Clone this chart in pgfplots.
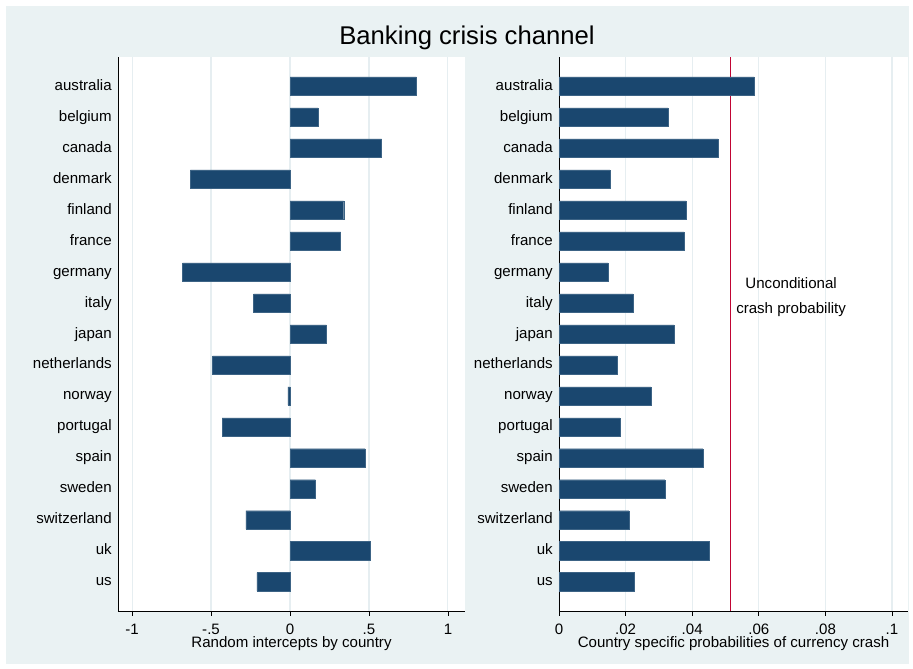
\documentclass[border=0pt]{standalone}
\usepackage{pgfplots}
\pgfplotsset{compat=1.18}
\usepackage{fontspec}
\setmainfont{Liberation Sans}
\definecolor{bgc}{HTML}{EAF2F3}
\definecolor{barc}{HTML}{1A476F}
\definecolor{gridc}{HTML}{E6EEF1}
\definecolor{redc}{HTML}{C10534}
\pgfplotstableread{
idx left right
0 0.80 0.0586
1 0.177 0.0327
2 0.58 0.0477
3 -0.63 0.0153
4 0.34 0.0381
5 0.32 0.0375
6 -0.68 0.0147
7 -0.23 0.0222
8 0.23 0.0345
9 -0.49 0.0174
10 -0.014 0.0276
11 -0.43 0.0183
12 0.475 0.0432
13 0.16 0.0318
14 -0.28 0.0210
15 0.51 0.0450
16 -0.21 0.0225
}\datatable
\pgfplotsset{
  commonstyle/.style={
    scale only axis,
    anchor=south west,
    height=415.5pt,
    y dir=reverse,
    ymin=-0.94, ymax=16.94,
    ytick={0,...,16},
    yticklabels={australia,belgium,canada,denmark,finland,france,germany,italy,japan,netherlands,norway,portugal,spain,sweden,switzerland,uk,us},
    ytick style={draw=none},
    yticklabel style={font=\fontsize{11.3}{13}\selectfont, anchor=base east, xshift=2.3pt, yshift=-3pt},
    xticklabel style={font=\fontsize{11.3}{13}\selectfont, anchor=base, yshift=-13.75pt},
    xlabel style={font=\fontsize{11.3}{13}\selectfont, at={(axis description cs:0.5,0)}, anchor=center, yshift=-24.75pt},
    axis x line*=bottom,
    axis y line*=left,
    axis line style={-, black, line width=0.7pt},
    x tick style={black, line width=0.6pt},
    tick align=outside,
    major tick length=3.5pt,
    xmajorgrids,
    major grid style={gridc, line width=0.8pt},
    axis background/.style={fill=white},
    xbar, bar width=13.8pt,
    /pgf/number format/assume math mode=true,
  }
}
\begin{document}
\begin{tikzpicture}
\fill[white] (0,0) rectangle (684.75pt,501pt);
\fill[bgc] (4.5pt,3pt) rectangle (681.75pt,496.5pt);
\node[font=\fontsize{19.25}{23}\selectfont] at (350.25pt,472.5pt) {Banking crisis channel};
\begin{axis}[commonstyle,
  at={(88.5pt,42.75pt)},
  width=260.25pt,
  xmin=-1.089, xmax=1.108,
  xtick={-1,-0.5,0,0.5,1},
  xticklabels={-1,-.5,0,.5,1},
  xlabel={Random intercepts by country},
]
\addplot[fill=barc, draw=barc!85!white, line width=0.3pt] table[x=left, y=idx] {\datatable};
\end{axis}
\begin{axis}[commonstyle,
  at={(419.25pt,42.75pt)},
  width=261.75pt,
  xmin=0, xmax=0.1048,
  xtick={0,0.02,0.04,0.06,0.08,0.1},
  xticklabels={0,.02,.04,.06,.08,.1},
  xlabel={Country specific probabilities of currency crash},
]
\draw[redc, line width=0.9pt] (axis cs:0.0514,-0.94) -- (axis cs:0.0514,16.94);
\addplot[fill=barc, draw=barc!85!white, line width=0.3pt] table[x=right, y=idx] {\datatable};
\node[font=\fontsize{11.3}{19}\selectfont, align=center] at (axis cs:0.0697,6.8) {Unconditional\\crash probability};
\end{axis}
\end{tikzpicture}
\end{document}
